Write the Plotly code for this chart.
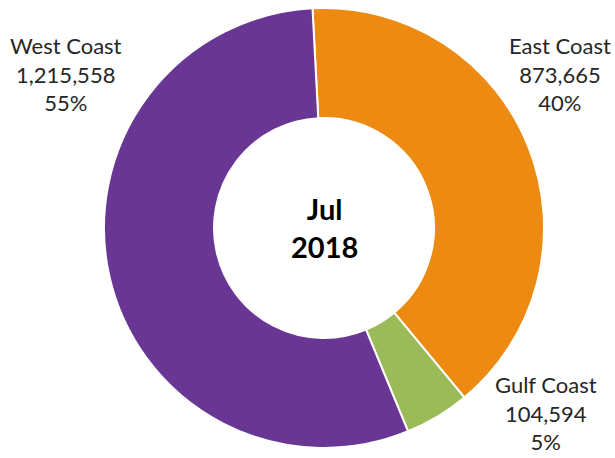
import plotly.graph_objects as go

regions = ["East Coast", "Gulf Coast", "West Coast"]
values = [873665, 104594, 1215558]
colors = ["#EC8A12", "#9BBB59", "#6A3694"]
center_title = ["Jul", "2018"]

W, H = 615, 458
total = sum(values)
pcts = [round(v / total * 100) for v in values]

fig = go.Figure()
fig.add_trace(go.Pie(
    labels=regions,
    values=values,
    hole=0.5,
    sort=False,
    direction="clockwise",
    rotation=-3,
    textinfo="none",
    hoverinfo="label+value+percent",
    marker=dict(colors=colors, line=dict(color="white", width=2)),
    domain=dict(x=[104 / W, 544 / W], y=[1 - 448 / H, 1 - 8 / H]),
    showlegend=False,
))

def lbl(i):
    return f"{regions[i]}<br>{values[i]:,}<br>{pcts[i]}%"

font = dict(family="Lato, Carlito, sans-serif", size=22, color="#262626")
label_pos = {2: (66, 74), 0: (560, 74), 1: (546, 413)}
annotations = []
for i, (px, py) in label_pos.items():
    annotations.append(dict(
        text=lbl(i), x=px / W, y=1 - py / H, xref="paper", yref="paper",
        xanchor="center", yanchor="middle", showarrow=False, align="center",
        font=font,
    ))
annotations.append(dict(
    text="<b>" + "<br>".join(center_title) + "</b>",
    x=324 / W, y=1 - 227 / H, xref="paper", yref="paper",
    xanchor="center", yanchor="middle", showarrow=False, align="center",
    font=dict(family="Lato, Carlito, sans-serif", size=29, color="black"),
))

fig.update_layout(
    width=W, height=H,
    margin=dict(l=0, r=0, t=0, b=0),
    paper_bgcolor="white",
    plot_bgcolor="white",
    annotations=annotations,
)

fig.write_html("out.html")
